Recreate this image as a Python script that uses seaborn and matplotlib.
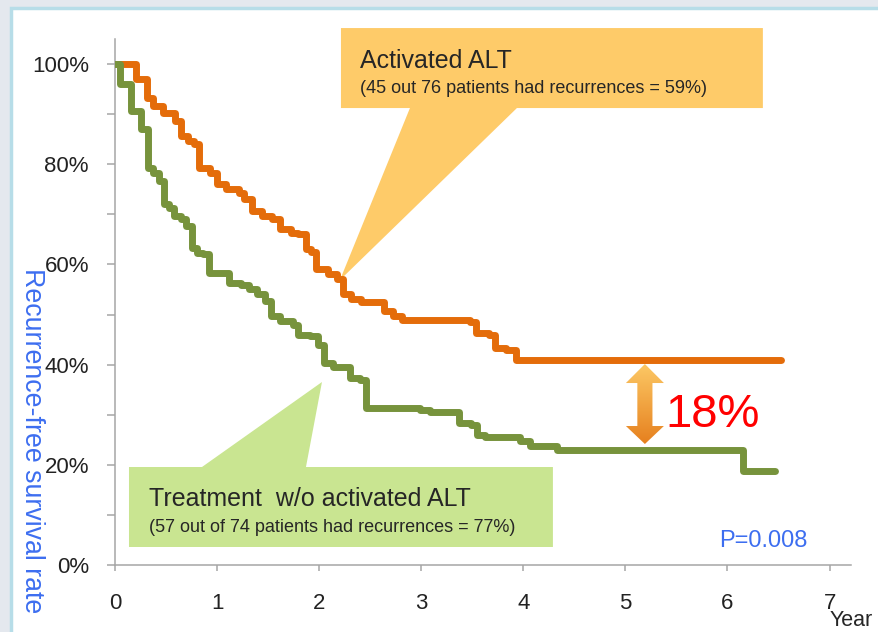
import numpy as np
import pandas as pd
import matplotlib
matplotlib.use("Agg")
import matplotlib.pyplot as plt
from matplotlib.patches import Polygon, Rectangle
from matplotlib.colors import LinearSegmentedColormap
import seaborn as sns

# Kaplan-Meier style curves (years, % recurrence-free)
alt_years = [0, 0.21, 0.31, 0.37, 0.47, 0.59, 0.65, 0.72, 0.77, 0.82, 0.93, 1.00,
             1.09, 1.21, 1.26, 1.34, 1.44, 1.54, 1.62, 1.72, 1.79, 1.87, 1.92, 1.97,
             2.09, 2.17, 2.23, 2.31, 2.41, 2.64, 2.72, 2.81, 3.48, 3.54, 3.66, 3.72,
             3.83, 3.93, 6.52]
alt_surv = [100, 97, 93.3, 91.7, 90.3, 88.7, 85.7, 84.7, 84, 79.3, 78.3, 76,
            75, 74.3, 73, 70.7, 69.7, 69, 67, 66.3, 66, 63, 62.4, 59,
            58, 57, 54, 53, 52.5, 50.7, 49.7, 48.9, 48.5, 46.4, 46, 43.3,
            42.9, 41, 41]

ctrl_years = [0, 0.05, 0.16, 0.25, 0.32, 0.37, 0.43, 0.48, 0.53, 0.58, 0.65, 0.70,
              0.75, 0.80, 0.86, 0.92, 1.12, 1.23, 1.31, 1.39, 1.47, 1.53, 1.62, 1.74,
              1.79, 1.91, 1.99, 2.05, 2.14, 2.30, 2.40, 2.46, 2.99, 3.09, 3.37, 3.49,
              3.55, 3.62, 3.97, 4.07, 4.33, 6.15, 6.47]
ctrl_surv = [100, 96, 90.7, 87, 79.3, 78.3, 76.7, 72, 71.3, 69.7, 69, 67.7,
             63.3, 62.3, 62, 58.3, 56.3, 55.8, 55.1, 54, 52.7, 49.7, 48.7, 48,
             46, 45.7, 44, 40.3, 39.5, 37.3, 36.9, 31.3, 31, 30.5, 28.3, 28,
             26, 25.5, 24.7, 23.7, 22.9, 18.8, 18.8]

x_ticks = [0, 1, 2, 3, 4, 5, 6, 7]
y_ticks = [0, 20, 40, 60, 80, 100]
y_tick_labels = ["0%", "20%", "40%", "60%", "80%", "100%"]

alt_title = "Activated ALT"
alt_note = "(45 out 76 patients had recurrences = 59%)"
ctrl_title = "Treatment  w/o activated ALT"
ctrl_note = "(57 out of 74 patients had recurrences = 77%)"
diff_label = "18%"
p_label = "P=0.008"

df = pd.concat([
    pd.DataFrame({"year": alt_years, "surv": alt_surv, "group": "alt"}),
    pd.DataFrame({"year": ctrl_years, "surv": ctrl_surv, "group": "ctrl"}),
])

sns.set_style("ticks")
plt.rcParams['font.family'] = ['Liberation Sans', 'DejaVu Sans']

ORANGE = "#E46C0A"
GREEN = "#77933C"
BLUE = "#3D6EF0"
AXGRAY = "#A6A6A6"

fig = plt.figure(figsize=(8.79, 6.32), dpi=100, facecolor="#E4E8EE")
# slide frame
fig.patches.append(Rectangle((11 / 879, -0.05), 1.0, (632 - 8) / 632 + 0.05,
                             transform=fig.transFigure, facecolor="white",
                             edgecolor="#B7DDE8", linewidth=2.5, zorder=-1))

ax = fig.add_axes([115 / 879, 67 / 632, 736 / 879, 526 / 632])
ax.set_facecolor("none")

sns.lineplot(data=df, x="year", y="surv", hue="group", estimator=None,
             palette={"alt": ORANGE, "ctrl": GREEN}, drawstyle="steps-post",
             linewidth=5, legend=False, ax=ax, zorder=5,
             solid_capstyle="round", solid_joinstyle="round")

ax.set_xlim(0, 7.21)
ax.set_ylim(0, 105)
ax.set_xticks(x_ticks)
ax.set_yticks(y_ticks)
ax.set_yticklabels(y_tick_labels)
ax.set_yticks([10, 30, 50, 70, 90], minor=True)
ax.set_xlabel("")
ax.set_ylabel("")
for s in ["top", "right"]:
    ax.spines[s].set_visible(False)
for s in ["left", "bottom"]:
    ax.spines[s].set_color(AXGRAY)
    ax.spines[s].set_linewidth(1.1)
ax.tick_params(axis="y", which="both", length=5.8, width=1.1, color=AXGRAY,
               labelsize=16, pad=13, labelcolor="#222222")
ax.tick_params(axis="x", length=4.3, width=1.1, color=AXGRAY, labelsize=16, pad=16,
               labelcolor="#222222")


def px(x, y):
    # slide pixel -> data coordinates
    return ((x - 115) / 102.1, (565 - y) / 5.01)


# orange callout
ax.add_patch(Polygon([px(341, 28), px(763, 28), px(763, 108), px(517, 108),
                      px(340, 280), px(410, 108), px(341, 108)],
                     closed=True, facecolor="#FECB69", edgecolor="none",
                     zorder=3, clip_on=False))
ax.text(*px(360, 68), alt_title, fontsize=18, va="baseline", zorder=6)
ax.text(*px(360, 93), alt_note, fontsize=13, va="baseline", zorder=6)

# green callout
ax.add_patch(Polygon([px(129, 467), px(202, 467), px(322, 382), px(306, 467),
                      px(553, 467), px(553, 547), px(129, 547)],
                     closed=True, facecolor="#C9E591", edgecolor="none",
                     zorder=3, clip_on=False))
ax.text(*px(149, 506), ctrl_title, fontsize=18, va="baseline", zorder=6)
ax.text(*px(149, 532), ctrl_note, fontsize=13, va="baseline", zorder=6)

# gradient double arrow
cx = (645 - 115) / 102.1
hh, hs = 0.186, 0.074
y_top, y_hb1, y_hb2, y_bot = px(0, 364)[1], px(0, 383)[1], px(0, 426)[1], px(0, 444)[1]
arrow = Polygon([(cx, y_top), (cx + hh, y_hb1), (cx + hs, y_hb1), (cx + hs, y_hb2),
                 (cx + hh, y_hb2), (cx, y_bot), (cx - hh, y_hb2), (cx - hs, y_hb2),
                 (cx - hs, y_hb1), (cx - hh, y_hb1)], closed=True,
                facecolor="none", edgecolor="none", zorder=4)
ax.add_patch(arrow)
cmap = LinearSegmentedColormap.from_list("arr", ["#E6801E", "#FCC865"])
grad = ax.imshow(np.linspace(0, 1, 256).reshape(-1, 1), cmap=cmap, origin="lower",
                 extent=[cx - hh, cx + hh, y_bot, y_top], aspect="auto", zorder=4)
grad.set_clip_path(arrow)
ax.text(*px(665, 427), diff_label, fontsize=34, color="#FF0000", va="baseline", zorder=6)
ax.text(*px(719, 547), p_label, fontsize=17, color=BLUE, va="baseline", zorder=6)

ax.set_xlim(0, 7.21)
ax.set_ylim(0, 105)

fig.text(32 / 879, 1 - 441 / 632, "Recurrence-free survival rate", rotation=270,
         ha="center", va="center", fontsize=19.3, color=BLUE)
fig.text(830 / 879, 6 / 632, "Year", ha="left", va="baseline", fontsize=15.5)

fig.savefig("out.png", dpi=100, facecolor=fig.get_facecolor())
